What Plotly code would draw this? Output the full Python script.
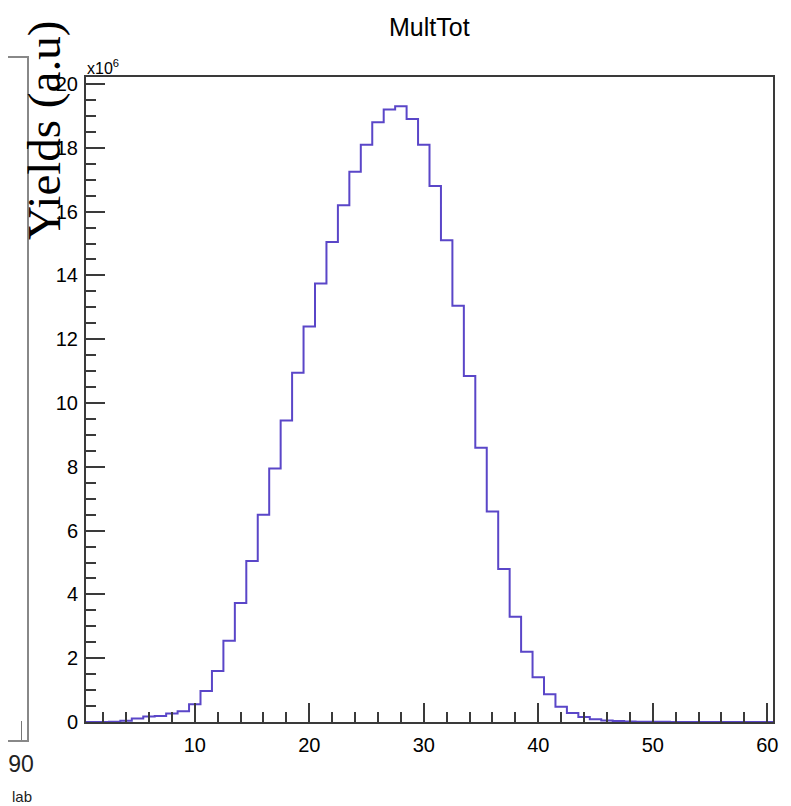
import plotly.graph_objects as go

# MultTot histogram, unit-width bins centred on 1..60, counts in units of 1e6
bin_centers = list(range(1, 61))
counts = [
    0.0, 0.0, 0.005, 0.04, 0.11, 0.17, 0.19, 0.27, 0.34, 0.56,
    0.97, 1.6, 2.55, 3.73, 5.05, 6.5, 7.95, 9.45, 10.95, 12.4,
    13.75, 15.05, 16.2, 17.25, 18.1, 18.8, 19.2, 19.3, 18.9, 18.1,
    16.8, 15.1, 13.05, 10.85, 8.6, 6.6, 4.8, 3.3, 2.2, 1.4,
    0.87, 0.48, 0.28, 0.16, 0.09, 0.05, 0.03, 0.015, 0.01, 0.005,
    0.004, 0.003, 0.002, 0.002, 0.001, 0.001, 0.001, 0.0, 0.0, 0.0,
]
x_ticks = [10, 20, 30, 40, 50, 60]
y_ticks = [0, 2, 4, 6, 8, 10, 12, 14, 16, 18, 20]

# neighbouring (cropped) panel, only its last tick is visible
left_ticks = [90]

# the page body has an 8px margin, so the figure starts at (8, 8) in the window
OFF = 8
W, H = 791 - OFF, 806 - OFF


def px(x):
    return (x - OFF) / W


def py(y):
    return 1 - (y - OFF) / H


frame_col = "#3a3a3a"
line_col = "#5a46c8"
tick_font = dict(family="Liberation Sans, Arial", size=20, color="black")

# step outline through the bin edges
edges = [c - 0.5 for c in bin_centers] + [bin_centers[-1] + 0.5]
step_y = counts + [counts[-1]]

fig = go.Figure()
fig.add_trace(go.Scatter(x=edges, y=step_y, mode="lines", line_shape="hv",
                         line=dict(color=line_col, width=2), hoverinfo="skip",
                         showlegend=False))
fig.add_trace(go.Scatter(x=[90], y=[0], mode="markers", marker=dict(opacity=0),
                         xaxis="x2", yaxis="y2", showlegend=False, hoverinfo="skip"))

fig.update_layout(
    width=W, height=H,
    margin=dict(l=0, r=0, t=0, b=0, autoexpand=False),
    paper_bgcolor="white", plot_bgcolor="white",
    xaxis=dict(domain=[px(86), px(773)], range=[0.5, 60.5], automargin=False,
               tickvals=x_ticks, ticks="inside", ticklen=19, tickwidth=1.5,
               tickcolor=frame_col, showgrid=False, zeroline=False,
               showline=True, linecolor=frame_col, linewidth=2, mirror=True,
               tickfont=tick_font, ticklabelstandoff=4,
               minor=dict(dtick=2, tick0=0, ticks="inside", ticklen=10,
                          tickcolor=frame_col, showgrid=False),
               anchor="y"),
    yaxis=dict(domain=[py(722), py(77)], range=[0, 20.22], automargin=False,
               tickvals=y_ticks, ticks="inside", ticklen=19, tickwidth=1.5,
               tickcolor=frame_col, showgrid=False, zeroline=False,
               showline=True, linecolor=frame_col, linewidth=2, mirror=True,
               tickfont=tick_font, ticklabelstandoff=2,
               minor=dict(dtick=0.5, tick0=0, ticks="inside", ticklen=10,
                          tickcolor=frame_col, showgrid=False),
               anchor="x"),
    xaxis2=dict(domain=[0, px(27)], range=[87.8, 91], tickvals=left_ticks,
                automargin=False, ticks="inside", ticklen=19, tickcolor="#777",
                showgrid=False, zeroline=False, showline=True,
                linecolor="#888", linewidth=2, mirror=True,
                tickfont=dict(family="Liberation Sans, Arial", size=23, color="#222"),
                ticklabelstandoff=2, anchor="y2"),
    yaxis2=dict(domain=[py(740), py(58)], range=[0, 1], automargin=False, side="right",
                showticklabels=False, ticks="", showgrid=False, zeroline=False,
                showline=True, linecolor="#888", linewidth=2,
                anchor="x2"),
    annotations=[
        dict(text="MultTot", x=px(429), y=py(27), xref="paper", yref="paper",
             showarrow=False, xanchor="center", yanchor="middle",
             font=dict(family="Liberation Sans, Arial", size=25, color="black")),
        dict(text="x10<sup>6</sup>", x=px(85), y=py(67), xref="paper", yref="paper",
             showarrow=False, xanchor="left", yanchor="middle",
             font=dict(family="Liberation Sans, Arial", size=16, color="black")),
        dict(text="Yields (a.u)", x=px(44), y=py(131), xref="paper", yref="paper",
             showarrow=False, textangle=-90, xanchor="center", yanchor="middle",
             font=dict(family="Liberation Serif, Times New Roman, serif", size=47, color="black")),
        dict(text="lab", x=px(10), y=py(796), xref="paper", yref="paper",
             showarrow=False, xanchor="left", yanchor="middle",
             font=dict(family="Liberation Sans, Arial", size=15, color="#222")),
    ],
)

fig.write_html("out.html")
